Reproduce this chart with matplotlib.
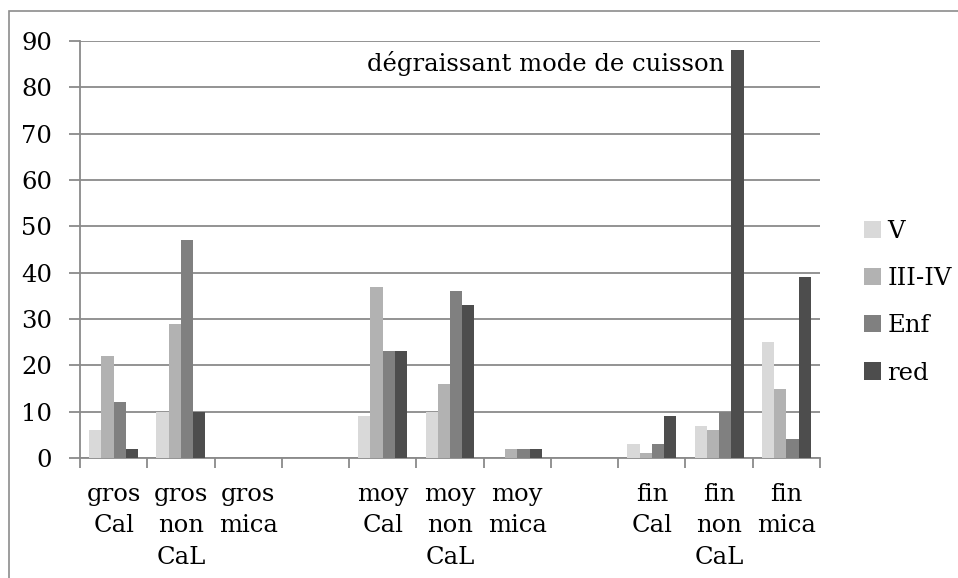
import matplotlib.pyplot as plt
import numpy as np
from matplotlib.patches import Rectangle

plt.rcParams['font.family'] = ['DejaVu Serif']

categories = ["gros\nCal", "gros\nnon\nCaL", "gros\nmica", "",
              "moy\nCal", "moy\nnon\nCaL", "moy\nmica", "",
              "fin\nCal", "fin\nnon\nCaL", "fin\nmica"]
series = ["V", "III-IV", "Enf", "red"]
v_vals = [6, 10, 0, 0, 9, 10, 0, 0, 3, 7, 25]
iii_iv_vals = [22, 29, 0, 0, 37, 16, 2, 0, 1, 6, 15]
enf_vals = [12, 47, 0, 0, 23, 36, 2, 0, 3, 10, 4]
red_vals = [2, 10, 0, 0, 23, 33, 2, 0, 9, 88, 39]
colors = ["#d9d9d9", "#b2b2b2", "#808080", "#4d4d4d"]

fs = 17.5

fig = plt.figure(figsize=(9.58, 5.78), dpi=100)
ax = fig.add_axes([80 / 958, 1 - 458 / 578, 740 / 958, 417 / 578])

# outer frame
fig.patches.append(Rectangle((9 / 958, -0.1), 1.2, 1 - 11 / 578 + 0.1,
                             transform=fig.transFigure, fill=False,
                             edgecolor="#8c8c8c", lw=1.2))

x = np.arange(len(categories))
width = 0.182
for i, (name, vals) in enumerate(zip(series, [v_vals, iii_iv_vals, enf_vals, red_vals])):
    ax.bar(x + (i - 1.5) * width, vals, width, color=colors[i], label=name, zorder=3)

ax.set_xlim(-0.5, len(categories) - 0.5)
ax.set_ylim(0, 90)
ax.set_yticks(range(0, 91, 10))
ax.yaxis.grid(True, color="#8a8a8a", lw=1.3)
ax.set_axisbelow(True)

ax.set_xticks(x)
ax.set_xticklabels(categories, fontsize=fs, linespacing=1.47)
ax.set_xticks(np.arange(-0.5, len(categories), 1), minor=True)
ax.tick_params(axis="x", which="major", length=0, pad=18)
ax.tick_params(axis="x", which="minor", length=7, width=1.3, color="#8a8a8a")
ax.tick_params(axis="y", length=8, width=1.3, color="#8a8a8a", labelsize=fs, pad=12)
for lbl in ax.get_xticklabels():
    lbl.set_verticalalignment("top")

for s in ["top", "right"]:
    ax.spines[s].set_visible(False)
for s in ["left", "bottom"]:
    ax.spines[s].set_color("#8a8a8a")
    ax.spines[s].set_linewidth(1.3)

ax.text(0.871, 0.945, "dégraissant mode de cuisson", transform=ax.transAxes,
        ha="right", va="center", fontsize=fs, zorder=4)

ax.legend(loc="center left", bbox_to_anchor=(1.03, 0.374), frameon=False,
          fontsize=fs, handlelength=0.7, handleheight=0.7, handletextpad=0.25,
          labelspacing=1.0)

fig.savefig("out.png", dpi=100)
